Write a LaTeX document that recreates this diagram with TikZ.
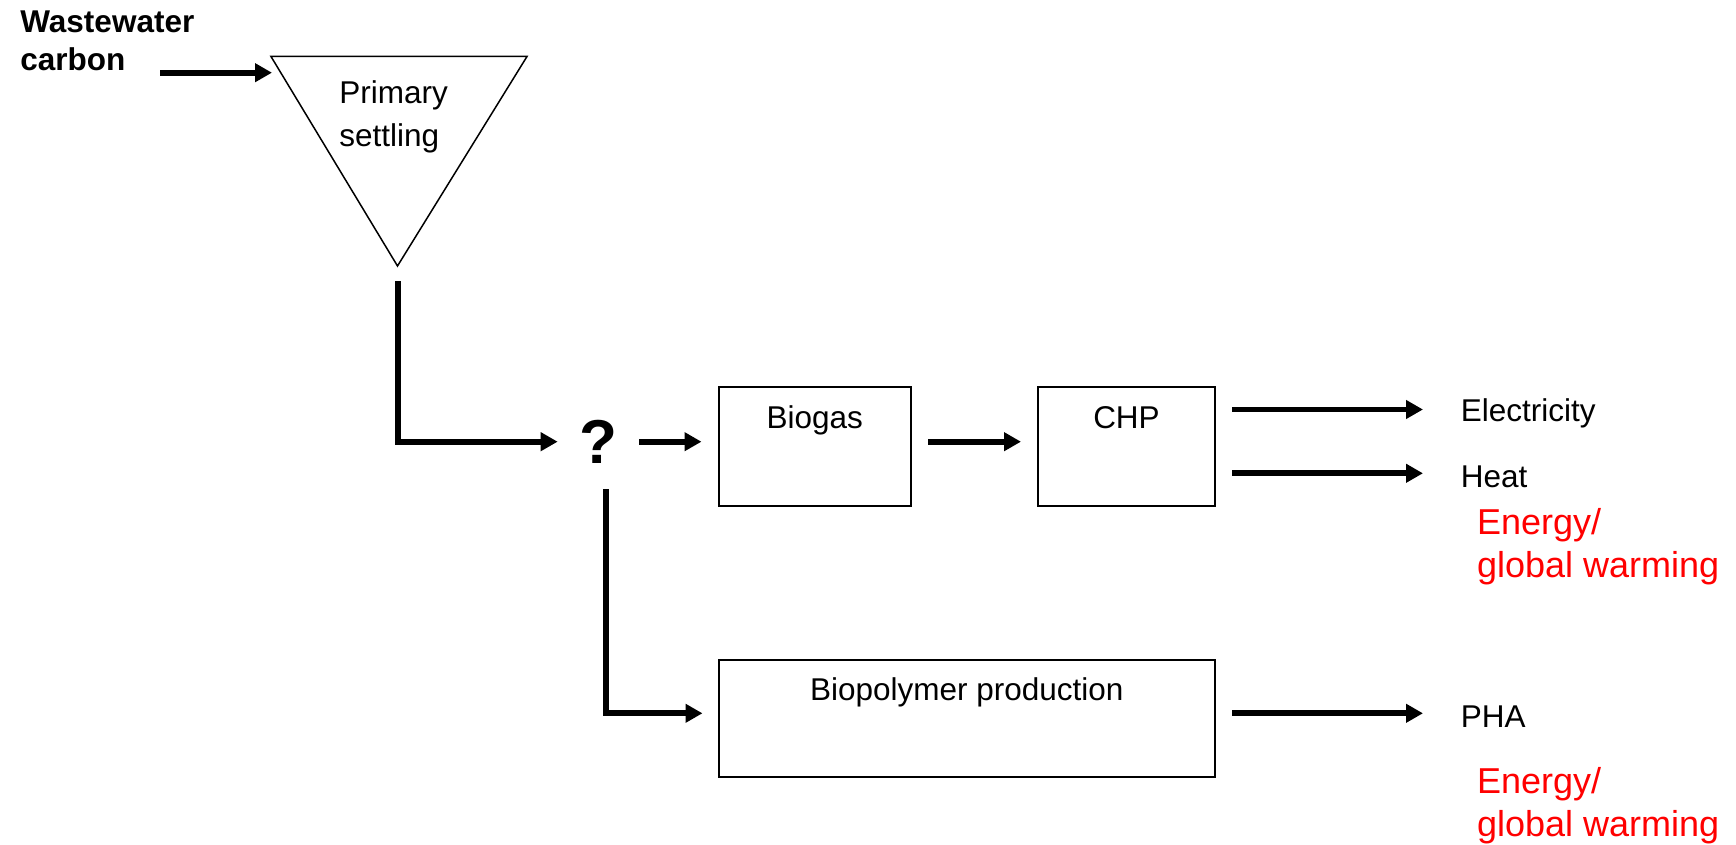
\documentclass[tikz,border=0pt]{standalone}
\usepackage{fontspec}
\setmainfont{Liberation Sans}
\usetikzlibrary{arrows.meta}
\begin{document}
\begin{tikzpicture}[x=0.5pt,y=-0.5pt,
  txt/.style={inner sep=0pt, font=\fontsize{15.75}{21.5}\selectfont},
  note/.style={inner sep=0pt, text=red, align=left, font=\fontsize{18}{21.5}\selectfont},
  box/.style={draw, line width=1pt, inner sep=0pt},
  arr/.style={line width=2.9pt, -{Triangle[length=8.5pt,width=9pt]}},
  flow/.style={line width=2.9pt}]
\useasboundingbox (0,0) rectangle (1736,845);

% inflow label (anchored on the baseline of its last line)
\node[inner sep=0pt, anchor=base west, align=left,
      font=\fontsize{15.75}{19}\selectfont\bfseries] (ww) at (20,71) {Wastewater\\carbon};

% primary settling tank
\coordinate (tl) at (271,56.5);
\coordinate (tr) at (527,56.5);
\coordinate (tb) at (397.5,266);
\draw[line width=0.75pt, line join=miter] (tl) -- (tr) -- (tb) -- cycle;
\node[txt, anchor=base west, align=left] (settle) at (339,147) {Primary\\settling};

% decision point
\node[inner sep=0pt, anchor=base, font=\fontsize{31}{36}\selectfont\bfseries] (q) at (598,464) {?};

% process boxes
\node[box, minimum width=96.25pt, minimum height=59.25pt] (biogas) at (814.75,446.25) {};
\node[txt, anchor=base] (biogasL) at ([yshift=-21.5pt]biogas.north) {Biogas};
\node[box, minimum width=88.5pt, minimum height=59.25pt] (chp) at (1126.5,446.25) {};
\node[txt, anchor=base] (chpL) at ([yshift=-21.5pt]chp.north) {CHP};
\node[box, minimum width=248.25pt, minimum height=58.75pt] (bio) at (966.75,718.25) {};
\node[txt, anchor=base] (bioL) at ([yshift=-21pt]bio.north) {Biopolymer production};

% products
\node[txt, anchor=base west] (elec) at (1460.5,421.7) {Electricity};
\node[txt, anchor=base west] (heat) at (1460.5,487.3) {Heat};
\node[txt, anchor=base west] (pha) at (1460.5,727.3) {PHA};
\node[note, anchor=base west] (imp1) at (1476.6,577) {Energy/\\global warming};
\node[note, anchor=base west] (imp2) at (1476.6,836) {Energy/\\global warming};

% connectors
\coordinate (wwOut) at (160,72.7);
\coordinate (wwIn) at (272,72.7);
\draw[arr] (wwOut) -- (wwIn);

\coordinate (sOut) at (398,281.5);
\coordinate (sElbow) at (398,441.7);
\draw[arr, line join=miter, shorten >=10.5pt] (sOut) -- (sElbow) -- (q.west |- sElbow);

\draw[arr, shorten <=11pt, shorten >=8pt] (q.east |- sElbow) -- (biogas.west |- sElbow);

\coordinate (qDown) at (606,489);
\coordinate (qCorner) at (606,713.3);
\draw[arr, line join=miter, shorten >=7.5pt] (qDown) -- (qCorner) -- (bio.west |- qCorner);

\draw[arr, shorten <=8pt, shorten >=8pt] (biogas.east |- sElbow) -- (chp.west |- sElbow);

\coordinate (eEnd) at (1423,409.5);
\coordinate (hEnd) at (1423,473.3);
\coordinate (pEnd) at (1423,713.3);
\draw[arr, shorten <=8pt] (chp.east |- eEnd) -- (eEnd);
\draw[arr, shorten <=8pt] (chp.east |- hEnd) -- (hEnd);
\draw[arr, shorten <=8pt] (bio.east |- pEnd) -- (pEnd);
\end{tikzpicture}
\end{document}
